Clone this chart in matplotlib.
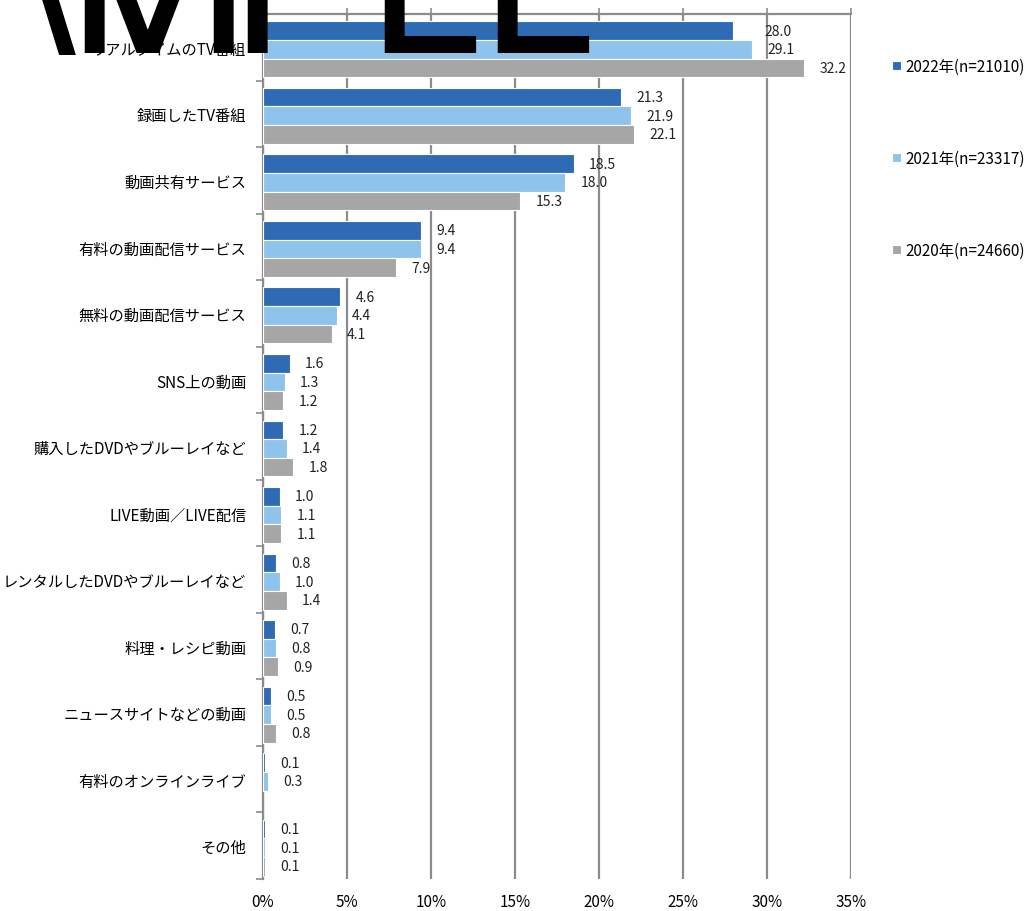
import matplotlib.pyplot as plt
import numpy as np

plt.rcParams['font.family'] = ['Noto Sans CJK JP', 'DejaVu Sans']

categories = [
    "リアルタイムのTV番組",
    "録画したTV番組",
    "動画共有サービス",
    "有料の動画配信サービス",
    "無料の動画配信サービス",
    "SNS上の動画",
    "購入したDVDやブルーレイなど",
    "LIVE動画／LIVE配信",
    "レンタルしたDVDやブルーレイなど",
    "料理・レシピ動画",
    "ニュースサイトなどの動画",
    "有料のオンラインライブ",
    "その他",
]
series_names = ["2022年(n=21010)", "2021年(n=23317)", "2020年(n=24660)"]
v2022 = [28.0, 21.3, 18.5, 9.4, 4.6, 1.6, 1.2, 1.0, 0.8, 0.7, 0.5, 0.1, 0.1]
v2021 = [29.1, 21.9, 18.0, 9.4, 4.4, 1.3, 1.4, 1.1, 1.0, 0.8, 0.5, 0.3, 0.1]
v2020 = [32.2, 22.1, 15.3, 7.9, 4.1, 1.2, 1.8, 1.1, 1.4, 0.9, 0.8, np.nan, 0.1]
x_ticks = [0, 5, 10, 15, 20, 25, 30, 35]

colors = ["#2E6BB4", "#8EC4EB", "#A6A6A6"]
grid_c = "#8C8C8C"

fig = plt.figure(figsize=(10.25, 9.12), dpi=100)
ax = fig.add_axes([263 / 1025, 1 - 880 / 912, 588 / 1025, 865 / 912])

y = np.arange(len(categories))
bh = 0.28
for k, (vals, name, c) in enumerate(zip([v2022, v2021, v2020], series_names, colors)):
    pos = y + (k - 1) * bh + 0.03
    ax.barh(pos, vals, height=bh, color=c, edgecolor="white",
            linewidth=0.8, label=name, zorder=3)
    for p, v in zip(pos, vals):
        if np.isnan(v):
            continue
        dx = 22 if v == 28.0 else 11
        ax.annotate(f"{v:.1f}", (v, p), xytext=(dx, 0), textcoords="offset points",
                    va="center", ha="left", fontsize=10, color="#222222")

ax.set_xlim(0, 35)
ax.set_ylim(len(categories) - 0.5, -0.5)
ax.set_xticks(x_ticks)
ax.set_xticklabels([f"{t}%" for t in x_ticks], fontsize=11)
ax.xaxis.grid(True, color=grid_c, linewidth=1.6, zorder=0)
ax.set_axisbelow(True)
ax.tick_params(axis="x", bottom=False, top=True, length=4, width=1.2,
               color=grid_c, pad=6)

ax.set_yticks(y)
ax.set_yticklabels(categories, fontsize=11)
ax.set_yticks(np.arange(len(categories) + 1) - 0.5, minor=True)
ax.tick_params(axis="y", which="major", length=0, pad=12)
ax.tick_params(axis="y", which="minor", length=5, width=1.2, color=grid_c)

for s in ["bottom", "right"]:
    ax.spines[s].set_visible(False)
for s in ["left", "top"]:
    ax.spines[s].set_color(grid_c)
    ax.spines[s].set_linewidth(1.6)

handles, labels = ax.get_legend_handles_labels()
fig.legend(handles, labels, loc="upper left", bbox_to_anchor=(886 / 1025, 1 - 53 / 912),
           frameon=False, fontsize=11, labelspacing=4.9, handlelength=0.55,
           handleheight=0.55, handletextpad=0.3, borderaxespad=0)

# oversized lettering cut by the top edge
base = 1 - 53 / 912
for ch, xc, lift in [("\\", 42, 17), ("I", 94, 0), ("V", 147, 0), ("I", 223, 0),
                     ("I", 257, 0), ("L", 420, 0), ("L", 533, 0)]:
    fig.text(xc / 1025, base + lift / 912, ch, fontsize=145, color="black",
             family="DejaVu Sans", va="baseline", ha="center", zorder=10)

fig.savefig("out.png", dpi=100)
